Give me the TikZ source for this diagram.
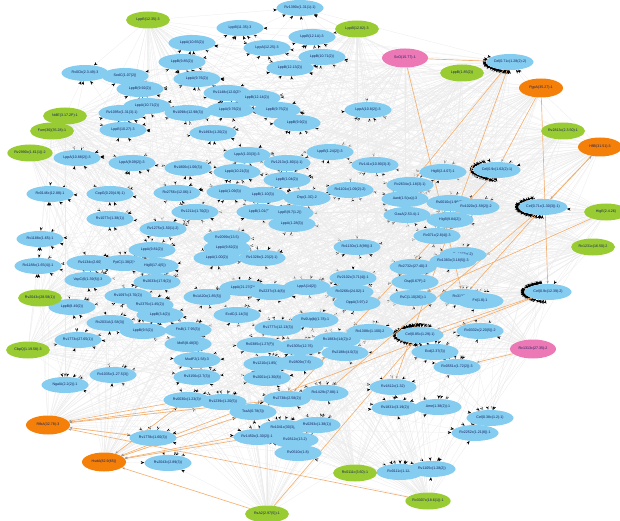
\documentclass[tikz,border=0pt]{standalone}
\usepackage{fontspec}
\setmainfont{Liberation Sans}
\usetikzlibrary{shapes.geometric,arrows.meta,backgrounds}
\definecolor{nodeblue}{RGB}{132,204,240}
\definecolor{nodegreen}{RGB}{153,204,51}
\definecolor{nodeorange}{RGB}{244,128,10}
\definecolor{nodepink}{RGB}{236,120,182}
\definecolor{linkorange}{RGB}{244,176,112}
\definecolor{labelblue}{RGB}{20,30,90}
\tikzset{
  base/.style={ellipse, inner sep=0.4pt, font=\fontsize{3.6}{4}\selectfont, text=labelblue},
  bn/.style={base, fill=nodeblue, minimum width=47pt, minimum height=16pt},
  gn/.style={base, fill=nodegreen, minimum width=44pt, minimum height=17pt},
  on/.style={base, fill=nodeorange, minimum width=44pt, minimum height=19pt},
  pn/.style={base, fill=nodepink, minimum width=46pt, minimum height=19pt},
  fan/.style={draw=black!8, line width=0.3pt, -{Stealth[length=3.6pt,width=2.8pt,black]}},
  olink/.style={draw=linkorange, line width=0.65pt, -{Stealth[length=3pt,width=2.2pt,black!40]}},
}
\begin{document}
\begin{tikzpicture}[x=1pt,y=-1pt]
\useasboundingbox (0,0) rectangle (620,521);

% ---------- regulated genes (blue) ----------
\node[bn] (b1) at (300,8) {Rv1390c(1.31(1)-1)};
\node[bn] (b2) at (240,28) {LppB(11.35)-3};
\node[bn] (b3) at (192,43) {LppA(10.65(2))};
\node[bn] (b4) at (267,48) {LppA(12.25)-3};
\node[bn] (b5) at (312,37) {LppB(12.1A)-3};
\node[bn] (b6) at (322,57) {LppB(10.71(2))};
\node[bn] (b7) at (290,68) {LppB(12.13(2))};
\node[bn] (b8) at (182,62) {LppB(9.85(2))};
\node[bn] (b9) at (197,79) {LppA(9.76(2))};
\node[bn] (b10) at (85,73) {Rv0Cb(2.3.49)-3};
\node[bn] (b11) at (125,76) {SodC(1.07(2))};
\node[bn] (b12) at (140,89) {LppB(9.92(2))};
\node[bn] (b13) at (147,106) {LppA(10.71(2))};
\node[bn] (b14) at (122,113) {Rv1095c(1.31(3)-1)};
\node[bn] (b15) at (188,113) {Rv1098c(12.98(3))};
\node[bn] (b16) at (230,110) {LppA(9.76(2))};
\node[bn] (b17) at (227,93) {Rv1148c(12.0(2))};
\node[bn] (b18) at (257,98) {LppB(12.14(2))};
\node[bn] (b19) at (277,110) {LppB(9.75(2))};
\node[bn] (b20) at (297,123) {LppB(9.9(2))};
\node[bn] (b21) at (213,133) {Rv1493c(1.20(2))};
\node[bn] (b22) at (123,130) {LppB(10.27)-3};
\node[bn] (b23) at (368,110) {LppA(10.8(2))-3};
\node[bn] (b24) at (330,152) {LppB(1.24(2))-3};
\node[bn] (b25) at (77,158) {LppA(10.88(2))-3};
\node[bn] (b26) at (132,163) {LppA(9.09(2))-3};
\node[bn] (b27) at (188,168) {Rv1806c(1.06(3))};
\node[bn] (b28) at (247,155) {LppA(1.03(3))-3};
\node[bn] (b29) at (237,172) {LppA(10.21(3))};
\node[bn] (b30) at (287,163) {Rv1213c(1.80(1)-1)};
\node[bn] (b31) at (287,180) {LppB(1.04(2))};
\node[bn] (b32) at (50,194) {Rv0146c(12.88)-1};
\node[bn] (b33) at (110,194) {CopG(0.20(4.9)-1)};
\node[bn] (b34) at (177,193) {Rv2756c(12.06)-1};
\node[bn] (b35) at (230,192) {LppA(1.09(3))};
\node[bn] (b36) at (263,195) {LppB(1.10(3))};
\node[bn] (b37) at (307,198) {Dsp(1.3C)-2};
\node[bn] (b38) at (195,212) {Rv1211c(1.70(2))};
\node[bn] (b39) at (110,219) {Rv1077c(1.38(1))};
\node[bn] (b40) at (260,212) {LppB(1.01(7))};
\node[bn] (b41) at (290,213) {LppB(9.7(1.2))};
\node[bn] (b42) at (292,224) {LppA(1.28(3))};
\node[bn] (b43) at (163,229) {Rv1275c(1.50(1)-2)};
\node[bn] (b44) at (40,239) {Rv1188c(1.65)-1};
\node[bn] (b45) at (227,238) {Rv2099c(13.5)};
\node[bn] (b46) at (152,250) {LppA(9.81(2))};
\node[bn] (b47) at (227,248) {LppA(9.82(2))};
\node[bn] (b48) at (217,258) {LppA(1.00(2))};
\node[bn] (b49) at (262,258) {Rv1328c(1.23(2)-1)};
\node[bn] (b50) at (375,165) {Rv141c(10.90(3)-3)};
\node[bn] (b51) at (443,172) {HigB(2.4.07)-1};
\node[bn] (b52) at (497,170) {Cel(0.9c(1.62(2)-1)};
\node[bn] (b53) at (350,190) {Rv1101c(1.09(2)-2)};
\node[bn] (b54) at (410,185) {Rv2634c(1.18(3)-1)};
\node[bn] (b55) at (405,199) {Aard(1.5(ca))-3};
\node[bn] (b56) at (543,207) {Cel(0.71c(1.30(3))-1)};
\node[bn] (b57) at (450,203) {Rv0010c(1.96(5))};
\node[bn] (b58) at (476,207) {Rv1020c(1.59(2))-2};
\node[bn] (b59) at (407,215) {OasA(2.53.4)-1};
\node[bn] (b60) at (450,220) {HigB(9.84(2))};
\node[bn] (b61) at (437,236) {Rv071c(2.8(4))-3};
\node[bn] (b62) at (357,247) {Rv1130c(1.8(99))-3};
\node[bn] (b63) at (463,255) {Rv1277c(-2)};
\node[bn] (b64) at (510,62) {Cel(0.71c(1.28(2)-2)};
\node[bn] (b65) at (38,266) {Rv1188c(1.65(4))-1};
\node[bn] (b66) at (90,263) {Rv1134c(2.60)};
\node[bn] (b67) at (124,263) {PpiC(1.38(2))};
\node[bn] (b68) at (155,266) {HigB(17.4(5))};
\node[bn] (b69) at (88,280) {VapC(6(1.39(5))-3};
\node[bn] (b70) at (157,282) {Rv2633c(17.9(2))};
\node[bn] (b71) at (128,296) {Rv1097c(3.70(2))};
\node[bn] (b72) at (72,307) {LppB(8.49(2))};
\node[bn] (b73) at (150,305) {Rv2375c(1.45(2))};
\node[bn] (b74) at (160,315) {LppB(3.4(2))};
\node[bn] (b75) at (110,323) {Rv2031A(1.58(3))};
\node[bn] (b76) at (143,331) {LppB(9.5(2))};
\node[bn] (b77) at (78,340) {Rv1773c(27.65(1))};
\node[bn] (b78) at (188,330) {FtsB(1.7.95(3))};
\node[bn] (b79) at (188,344) {MoB(8.48(3))};
\node[bn] (b80) at (197,360) {MudF2(1.58)-3};
\node[bn] (b81) at (113,375) {Rv1035c(1.27.5(3))};
\node[bn] (b82) at (65,385) {NgalA(2.2(2))-1};
\node[bn] (b83) at (197,377) {Rv3156c(2.7(3))};
\node[bn] (b84) at (207,297) {Rv1A20c(1.85(5))};
\node[bn] (b85) at (243,288) {LppA(21.27(2))};
\node[bn] (b86) at (272,292) {Rv2237c(3.4(8))};
\node[bn] (b87) at (237,315) {EcdC(1.14(3))};
\node[bn] (b88) at (307,287) {LppA(14(2))};
\node[bn] (b89) at (353,278) {Rv2102c(3.71(4))-1};
\node[bn] (b90) at (315,320) {Rv0Up(b)(1.78)-1};
\node[bn] (b91) at (278,328) {Rv1777c(12.13(3))};
\node[bn] (b92) at (260,345) {Rv0385c(1.27(F))};
\node[bn] (b93) at (300,347) {Rv1305c(12.76)};
\node[bn] (b94) at (337,340) {Rv1883c(14(2))-2};
\node[bn] (b95) at (345,353) {Rv2188c(4.0(3))};
\node[bn] (b96) at (267,364) {Rv1210c(1.85(3))};
\node[bn] (b97) at (300,363) {Rv2809c(7.6)};
\node[bn] (b98) at (267,378) {Rv2001c(1.30(8))};
\node[bn] (b99) at (413,267) {Rv2732c(27.40)-3};
\node[bn] (b100) at (453,261) {Rv1383c(3.18(5))-3};
\node[bn] (b101) at (350,292) {Rv3266c(24.02)-1};
\node[bn] (b102) at (357,303) {OppA(3.97)-2};
\node[bn] (b103) at (415,282) {Osp(0.67F)-2};
\node[bn] (b104) at (413,298) {RvC(1.10(26))-1};
\node[bn] (b105) at (463,297) {Rv3133c(27)};
\node[bn] (b106) at (480,301) {Fri(1.8)-1};
\node[bn] (b107) at (548,292) {Cel(0.9c(12.39)-2)};
\node[bn] (b108) at (370,332) {Rv1388c(1.100)-2};
\node[bn] (b109) at (420,335) {Cel(0.85c(1.29)-1)};
\node[bn] (b110) at (480,331) {Rv0332c(2.20(5))-2};
\node[bn] (b111) at (435,352) {Ecd(2.37(3))};
\node[bn] (b112) at (457,367) {Rv0551c(1.72(2))-3};
\node[bn] (b113) at (393,387) {Rv1812c(1.32)};
\node[bn] (b114) at (187,400) {Rv0030c(1.23(3))};
\node[bn] (b115) at (223,402) {Rv1239c(1.20(5))};
\node[bn] (b116) at (287,399) {Rv2738c(2.58(2))};
\node[bn] (b117) at (253,412) {TcaA(0.78(3))};
\node[bn] (b118) at (283,428) {Rv1041c(30(3))};
\node[bn] (b119) at (257,437) {Rv1450c(1.30(2))-1};
\node[bn] (b120) at (295,440) {Rv2812c(13.2)};
\node[bn] (b121) at (298,453) {Rv0510c(1.8)};
\node[bn] (b122) at (153,438) {Rv1778c(1.60(3))};
\node[bn] (b123) at (168,463) {Rv2043c(2.89(3))};
\node[bn] (b124) at (325,393) {Rv1429c(7.88)-1};
\node[bn] (b125) at (395,408) {Rv1831c(3.19(2))};
\node[bn] (b126) at (438,407) {Ame(1.38(2))-1};
\node[bn] (b127) at (490,418) {Cel(0.38c(1.2)-1)};
\node[bn] (b128) at (475,433) {Rv2252c(1.21(8))-1};
\node[bn] (b129) at (317,425) {Rv0293c(1.38(1))};
\node[bn] (b130) at (400,472) {Rv0111c(1.120)};
\node[bn] (b131) at (432,469) {Rv1105c(1.28(2))};

% ---------- regulators ----------
\node[gn] (g1) at (148,20) {LppB(12.35)-3};
\node[gn] (g2) at (357,29) {LppB(12.82)-3};
\node[gn] (g3) at (462,73) {LppB(1.85(2))};
\node[gn] (g4) at (65,116) {NdlE(3.17.2P)-1};
\node[gn] (g5) at (52,131) {Fum(36)(35.28)-1};
\node[gn] (g6) at (30,153) {Rv2990c(1.61(1))-2};
\node[gn] (g7) at (563,131) {Rv2813c(2.3.50)-1};
\node[gn] (g8) at (606,212) {HigE(2.4.26)};
\node[gn] (g9) at (593,247) {Rv1231c(16.50)-2};
\node[gn] (g10) at (40,298) {Rv2043c(28.58(1))};
\node[gn] (g11) at (28,350) {CbpQ(1.19.58)-3};
\node[gn] (g12) at (267,514) {RsA2(2.97(5))-1};
\node[gn] (g13) at (355,473) {Rv0111c(3.60)-1};
\node[gn] (g14) at (428,501) {Rv3307c(18.6(1))-1};
\node[on] (o1) at (541,88) {PgpA(35.27)-1};
\node[on] (o2) at (600,147) {HflB(31.51)-3};
\node[on] (o3) at (48,425) {RfbA(32.78)-3};
\node[on] (o4) at (104,462) {HsdA(82.9(65))};
\node[pn] (p1) at (405,58) {ScO(15.77)-1};
\node[pn] (p2) at (533,349) {Rv1313c(27.35)-2};

\begin{pgfonlayer}{background}
% regulator -> target fans
\foreach \s [count=\k] in {g1,g2,g3,g4,g5,g6,g7,g8,g9,g10,g11,g12,g13,g14,o1,o2,o3,o4,p1,p2} {
  \foreach \i in {1,...,131} {
    \pgfmathtruncatemacro\r{mod(\i*7+\k*5,3)}
    \ifnum\r=0 \draw[fan] (\s) -- (b\i); \fi
  }
}
% targets feeding the Cel hubs
\foreach \h [count=\k] in {b64,b52,b56,b107,b109} {
  \foreach \i in {1,...,131} {
    \pgfmathtruncatemacro\r{mod(\i+\k,2)+(\i==52)+(\i==56)+(\i==64)+(\i==107)+(\i==109)}
    \ifnum\r=0 \draw[fan] (b\i) -- (\h); \fi
  }
}
% highlighted links
\draw[olink] (p1) -- (b64);
\draw[olink] (p1) -- (b105);
\draw[olink] (b64) -- (b54);
\draw[olink] (b64) -- (b113);
\draw[olink] (o1) -- (b107);
\draw[olink] (o1) -- (b52);
\draw[olink] (o2) -- (b56);
\draw[olink] (b56) -- (o2);
\draw[olink] (g8) -- (b104);
\draw[olink] (b107) -- (b109);
\draw[olink] (b56) -- (b105);
\draw[olink] (b56) -- (b124);
\draw[olink] (b52) -- (b116);
\draw[olink] (g12) -- (b109);
\draw[olink] (p2) -- (b112);
\draw[olink] (b114) -- (o3);
\draw[olink] (b115) -- (o3);
\draw[olink] (b116) -- (o3);
\draw[olink] (b122) -- (o3);
\draw[olink] (b114) -- (o4);
\draw[olink] (b117) -- (o4);
\draw[olink] (b118) -- (o4);
\draw[olink] (b119) -- (o4);
\draw[olink] (b107) -- (o4);
\draw[olink] (g12) -- (o4);
\draw[olink] (g14) -- (o3);
\end{pgfonlayer}
\end{tikzpicture}
\end{document}
